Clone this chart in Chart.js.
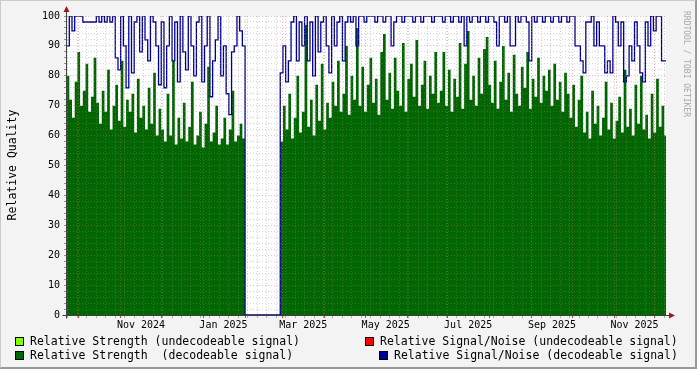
<!DOCTYPE html>
<html>
<head>
<meta charset="utf-8">
<script src="https://cdn.jsdelivr.net/npm/chart.js@4.4.0/dist/chart.umd.min.js"></script>
<style>
html, body { margin: 0; padding: 0; background: #f3f3f3; }
#wrap { position: relative; width: 697px; height: 369px; overflow: hidden; background: #f3f3f3; font-family: "DejaVu Sans Mono", monospace; color: #000; }
#wrap canvas { position: absolute; left: 0; top: 0; }
#frame { position: absolute; left: 0; top: 0; width: 697px; height: 369px; box-sizing: border-box; border-style: solid; border-width: 1px 2px 2px 1px; border-color: #cbcbcb #999 #999 #cbcbcb; pointer-events: none; }
.t { position: absolute; white-space: pre; font-size: 11.5px; line-height: 14px; }
.bx { position: absolute; width: 7px; height: 7px; border: 1px solid #000; }
#ytitle { position: absolute; left: -68px; top: 158px; width: 160px; text-align: center; font-size: 11.5px; line-height: 14px; transform: rotate(-90deg); }
#mark { position: absolute; left: 626px; top: 59px; width: 120px; text-align: center; font-size: 8px; line-height: 10px; color: #a8a8a8; transform: rotate(90deg); }
</style>
</head>
<body>
<div id="wrap">
  <canvas id="qualityChart" width="697" height="369"></canvas>
  <div id="ytitle">Relative Quality</div>
  <div id="mark">RRDTOOL / TOBI OETIKER</div>

  <span class="bx" style="left:15px;top:337px;background:#7fff00"></span>
  <div class="t" style="left:30px;top:334px">Relative Strength (undecodeable signal)</div>
  <span class="bx" style="left:365px;top:337px;background:#ff0000"></span>
  <div class="t" style="left:380px;top:334px">Relative Signal/Noise (undecodeable signal)</div>

  <span class="bx" style="left:15px;top:351px;background:#006600"></span>
  <div class="t" style="left:30px;top:348px">Relative Strength  (decodeable signal)</div>
  <span class="bx" style="left:379px;top:351px;background:#000099"></span>
  <div class="t" style="left:394px;top:348px">Relative Signal/Noise (decodeable signal)</div>

  <div id="frame"></div>
</div>
<script>
// day 0 = 1 Nov 2024, one sample every 2 days starting 22 Sep 2024
const firstSampleDay = -40;
const sampleStep = 2;
const axisMinDay = -39.7;
const axisMaxDay = 403.3;

// Relative Strength (decodeable signal)
const strengthDecodeable = [
  80,72,66,78,88,70,75,84,68,73,86,71,
  64,75,68,82,62,70,77,65,85,63,72,68,74,61,79,66,70,62,76,64,81,60,69,
  62,58,74,60,85,57,66,59,71,58,63,78,57,60,68,56,64,83,58,61,70,57,59,66,57,62,75,58,60,64,59,
  0,0,0,0,0,0,0,0,0,0,0,0,0,
  58,70,62,74,59,66,80,61,68,97,63,72,60,77,65,84,62,71,
  66,78,70,85,68,74,90,67,80,72,96,70,83,68,77,86,71,79,67,88,94,
  72,81,69,86,75,70,91,68,79,84,73,92,70,77,85,69,80,74,88,71,
  75,88,70,82,68,79,73,91,69,84,95,72,80,70,86,74,89,93,77,71,
  85,69,78,90,72,81,68,87,74,70,83,76,88,69,79,73,86,71,80,75,
  82,70,84,72,78,68,81,74,66,77,
  63,72,80,61,68,59,75,64,70,60,66,78,62,71,59,65,73,61,82,63,
  69,60,77,64,80,62,67,59,74,61,79,63,70,60
];

// Relative Signal/Noise (decodeable signal)
const snrDecodeable = [
  90,100,95,100,100,100,98,98,98,98,98,100,
  98,100,98,100,98,100,86,82,100,90,76,100,81,98,100,88,100,92,85,100,98,90,77,
  98,76,90,100,85,98,78,100,88,82,100,90,80,98,100,78,90,100,73,85,92,100,80,90,74,67,88,90,100,95,90,
  0,0,0,0,0,0,0,0,0,0,0,0,0,
  81,90,78,85,98,100,85,98,90,100,85,98,80,100,88,98,100,90,
  81,100,90,98,100,85,98,100,98,100,90,
  100,100,98,100,100,100,98,100,100,98,100,100,90,98,100,100,98,100,100,100,
  98,100,100,98,100,100,100,98,100,100,
  100,98,100,100,98,100,100,98,100,90,100,98,100,100,98,100,100,98,100,100,
  98,90,100,100,98,100,90,90,100,98,100,100,98,85,100,98,100,100,98,100,
  100,98,100,100,98,100,100,98,100,100,
  90,90,85,81,98,98,100,90,98,90,90,81,85,81,100,98,90,98,78,80,
  90,85,98,90,81,78,98,90,100,95,100,100,85,85
];

// undecodeable series have no samples in this period
const strengthUndecodeable = [];
const snrUndecodeable = [];

// axis marks (days since 1 Nov 2024)
const monthStartDays = [-31, 0, 30, 61, 92, 120, 151, 181, 212, 242, 273, 304, 334, 365, 395];
const firstMonday = 3;
const monthLabelDays = [15, 76, 135, 196, 257, 319, 380];
const monthLabels = ['Nov 2024', 'Jan 2025', 'Mar 2025', 'May 2025', 'Jul 2025', 'Sep 2025', 'Nov 2025'];
const yMinorStep = 2;
const yMajorStep = 10;

function toPoints(values) {
  const pts = values.map((v, i) => ({ x: firstSampleDay + i * sampleStep, y: v }));
  if (values.length) pts.push({ x: axisMaxDay + 1, y: values[values.length - 1] });
  return pts;
}

function xTicks(scale) {
  const t = [];
  for (let d = firstMonday; d >= axisMinDay; d -= 7) t.push({ value: d, kind: 'minor' });
  for (let d = firstMonday + 7; d <= axisMaxDay; d += 7) t.push({ value: d, kind: 'minor' });
  monthStartDays.forEach(d => {
    if (d >= axisMinDay && d <= axisMaxDay) t.push({ value: d, kind: 'major' });
  });
  monthLabelDays.forEach((d, i) => t.push({ value: d, kind: 'label', text: monthLabels[i] }));
  t.sort((a, b) => a.value - b.value);
  scale.ticks = t;
}

function yTicks(scale) {
  const t = [];
  for (let v = 0; v <= 100; v += yMinorStep) {
    t.push({ value: v, kind: v % yMajorStep === 0 ? 'major' : 'minor' });
  }
  scale.ticks = t;
}

const gridColor = ctx => {
  const k = ctx.tick && ctx.tick.kind;
  if (k === 'major') return 'rgba(215,100,100,0.42)';
  if (k === 'minor') return 'rgba(140,140,140,0.38)';
  return 'rgba(0,0,0,0)';
};

const frameBits = {
  id: 'frameBits',
  beforeDraw(chart) {
    const a = chart.chartArea, c = chart.ctx;
    c.save();
    c.fillStyle = '#ffffff';
    c.fillRect(a.left, a.top, a.right - a.left, a.bottom - a.top);
    c.restore();
  },
  afterDraw(chart) {
    const a = chart.chartArea, c = chart.ctx;
    const x0 = Math.round(a.left) - 0.5, y0 = Math.round(a.bottom) + 0.5;
    c.save();
    c.strokeStyle = '#404040';
    c.lineWidth = 1;
    c.beginPath();
    c.moveTo(x0, y0 + 3); c.lineTo(x0, a.top - 5);
    c.moveTo(x0 - 4, y0); c.lineTo(a.right + 5, y0);
    c.stroke();
    c.fillStyle = '#a01818';
    c.beginPath();
    c.moveTo(x0 - 3, a.top - 4); c.lineTo(x0 + 3, a.top - 4); c.lineTo(x0, a.top - 10);
    c.closePath(); c.fill();
    c.beginPath();
    c.moveTo(a.right + 3, y0 - 3); c.lineTo(a.right + 3, y0 + 3); c.lineTo(a.right + 9, y0);
    c.closePath(); c.fill();
    c.restore();
  }
};

const tickFont = { family: 'DejaVu Sans Mono', size: 10 };

new Chart(document.getElementById('qualityChart').getContext('2d'), {
  type: 'line',
  data: {
    datasets: [
      {
        label: 'Relative Strength (undecodeable signal)',
        data: toPoints(strengthUndecodeable),
        backgroundColor: '#7fff00',
        fill: 'origin',
        borderWidth: 0,
        order: 4
      },
      {
        label: 'Relative Signal/Noise (undecodeable signal)',
        data: toPoints(snrUndecodeable),
        borderColor: '#ff0000',
        fill: false,
        borderWidth: 1.2,
        order: 1
      },
      {
        label: 'Relative Strength  (decodeable signal)',
        data: toPoints(strengthDecodeable),
        backgroundColor: '#006600',
        borderWidth: 0,
        fill: 'origin',
        stepped: true,
        order: 3
      },
      {
        label: 'Relative Signal/Noise (decodeable signal)',
        data: toPoints(snrDecodeable),
        borderColor: '#000090',
        borderWidth: 1.3,
        fill: false,
        stepped: true,
        order: 2
      }
    ]
  },
  options: {
    responsive: false,
    animation: false,
    devicePixelRatio: 1,
    events: [],
    parsing: false,
    elements: { point: { radius: 0 }, line: { tension: 0 } },
    layout: { padding: { left: 0, top: 16, right: 31, bottom: 32 } },
    plugins: { legend: { display: false }, tooltip: { enabled: false } },
    scales: {
      x: {
        type: 'linear',
        min: axisMinDay,
        max: axisMaxDay,
        afterBuildTicks: xTicks,
        afterFit: s => { s.height = 22; },
        grid: {
          z: 1,
          color: gridColor,
          lineWidth: 1,
          drawTicks: true,
          tickLength: 3,
          tickColor: ctx => ctx.tick && ctx.tick.kind === 'major' ? '#d04040' : (ctx.tick && ctx.tick.kind === 'minor' ? '#b0b0b0' : 'rgba(0,0,0,0)')
        },
        border: { display: false, dash: [1, 2] },
        ticks: {
          autoSkip: false,
          maxRotation: 0,
          padding: 1,
          color: '#000',
          font: tickFont,
          callback: (v, i, ticks) => ticks[i].kind === 'label' ? ticks[i].text : ''
        }
      },
      y: {
        min: 0,
        max: 100,
        afterBuildTicks: yTicks,
        afterFit: s => { s.width = 67; },
        grid: {
          z: 1,
          color: gridColor,
          lineWidth: 1,
          drawTicks: true,
          tickLength: 3,
          tickColor: '#909090'
        },
        border: { display: false, dash: [1, 2] },
        ticks: {
          autoSkip: false,
          padding: 4,
          color: '#000',
          font: tickFont,
          callback: v => v % yMajorStep === 0 ? String(v) : ''
        }
      }
    }
  },
  plugins: [frameBits]
});
</script>
</body>
</html>
